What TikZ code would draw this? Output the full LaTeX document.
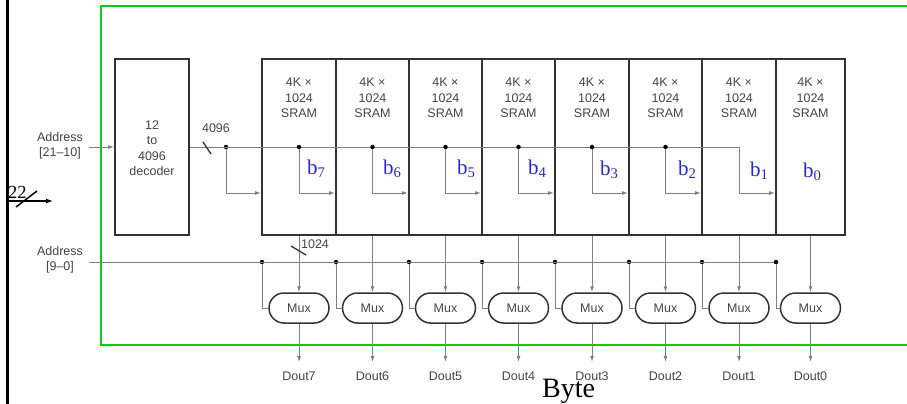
\documentclass[tikz,border=0pt]{standalone}
\usepackage{fontspec}
\setmainfont{Liberation Serif}
\newfontfamily\hsans{Liberation Sans}
\usetikzlibrary{arrows.meta}
\definecolor{boxc}{HTML}{333333}
\definecolor{linec}{HTML}{808080}
\definecolor{txtc}{HTML}{444444}
\definecolor{grn}{RGB}{20,200,20}
\definecolor{bblue}{RGB}{40,40,210}
\tikzset{
  sram/.style={draw=boxc,line width=2pt,minimum height=176pt,inner sep=0pt},
  lab/.style={font=\hsans\fontsize{12.5}{15.5}\selectfont,text=txtc,inner sep=0pt,align=center},
  muxbox/.style={draw=boxc,line width=1.5pt,rounded corners=15pt,minimum width=60pt,minimum height=30pt,inner sep=0pt,font=\hsans\fontsize{12.5}{15.5}\selectfont,text=txtc},
  wire/.style={draw=linec,line width=1pt},
  arr/.style={wire,-{Latex[length=6pt,width=4pt]}},
  dot/.style={circle,fill=black,inner sep=0pt,minimum size=4.5pt},
  bitlab/.style={anchor=base west,inner sep=0pt,text=bblue,font=\fontsize{21}{21}\selectfont},
  slashmark/.style={draw=boxc,line width=1.3pt}
}
\begin{document}
\begin{tikzpicture}[x=1pt,y=-1pt]
\useasboundingbox (0,0) rectangle (907,404);
% green frame
\draw[grn,line width=2.5pt] (930,6) -- (101,6) -- (101,345) -- (930,345);
% left black bar
\draw[black,line width=2.5pt] (7.5,-2) -- (7.5,406);
% 22 bus arrow
\coordinate (in0) at (7.5,201);
\coordinate (in1) at (53,201);
\draw[black,line width=1.2pt,-{Latex[length=7pt,width=5pt]}] (in0) -- (in1);
\draw[black,line width=1.5pt] (16,207) -- (37,191);
\node[inner sep=0pt,anchor=base west,font=\fontsize{18.5}{18.5}\selectfont] (n22) at (8,198) {22};
% decoder
\node[sram,minimum width=74pt] (dec) at (152,147) {};
\node[lab] (dect) at (152,148) {12\\to\\4096\\decoder};
% address labels
\node[lab] (A1) at (60,146) {Address\\{[21–10]}};
\node[lab] (A2) at (60,260) {Address\\{[9–0]}};
\coordinate (a1) at (89,147);
\draw[arr] (a1) -- (dec.west);
\coordinate (a2) at (89,262);
% SRAMs, muxes, outputs
\foreach \L/\R/\bit in {262/336/7,336/409/6,409/482/5,482/555/4,555/629/3,629/702/2,702/776/1,776/845/0}{
  \pgfmathsetmacro\C{(\L+\R)/2}
  \pgfmathsetmacro\W{\R-\L}
  \node[sram,minimum width=\W pt] (s\bit) at (\C,147) {};
  \node[lab] (t\bit) at (\C,98) {4K ×\\1024\\SRAM};
  \node[muxbox] (m\bit) at (\C,308) {Mux};
  \draw[arr] (s\bit.south) -- (m\bit.north);
  \coordinate (o\bit) at (\C,362);
  \draw[arr] (m\bit.south) -- (o\bit);
  \node[lab] (d\bit) at (\C,376) {Dout\bit};
  \node[dot] (q\bit) at (\L,262) {};
  \draw[wire] (q\bit) |- (m\bit.west);
}
% address [9-0] bus
\draw[wire] (a2) -- (q0);
% decoder output bus
\coordinate (row) at (0,193);
\coordinate (bend) at (739,147);
\node[dot] (j0) at (226,147) {};
\draw[wire] (dec.east) -- (bend);
\draw[arr] (j0) |- (s7.west |- row);
\foreach \a/\b in {7/6,6/5,5/4,4/3,3/2,2/1}{
  \node[dot] (p\a) at (s\a.center |- bend) {};
  \draw[arr] (p\a) |- (s\b.west |- row);
}
\draw[arr] (bend) |- (s0.west |- row);
% slash marks
\draw[slashmark] (203,142) -- (211,154);
\node[lab] (w4096) at (216,128) {4096};
\draw[slashmark] (291,246) -- (306,255);
\node[lab] (w1024) at (315,244) {1024};
% bit labels
\node[bitlab] (b7) at (307,174) {b\textsubscript{7}};
\node[bitlab] (b6) at (383,174) {b\textsubscript{6}};
\node[bitlab] (b5) at (457,174) {b\textsubscript{5}};
\node[bitlab] (b4) at (528,174) {b\textsubscript{4}};
\node[bitlab] (b3) at (600,175) {b\textsubscript{3}};
\node[bitlab] (b2) at (678,175) {b\textsubscript{2}};
\node[bitlab] (b1) at (750,176) {b\textsubscript{1}};
\node[bitlab] (b0) at (803,177) {b\textsubscript{0}};
% Byte
\node[inner sep=0pt,anchor=base west,font=\fontsize{28}{28}\selectfont] (byte) at (542,397) {Byte};
\end{tikzpicture}
\end{document}
